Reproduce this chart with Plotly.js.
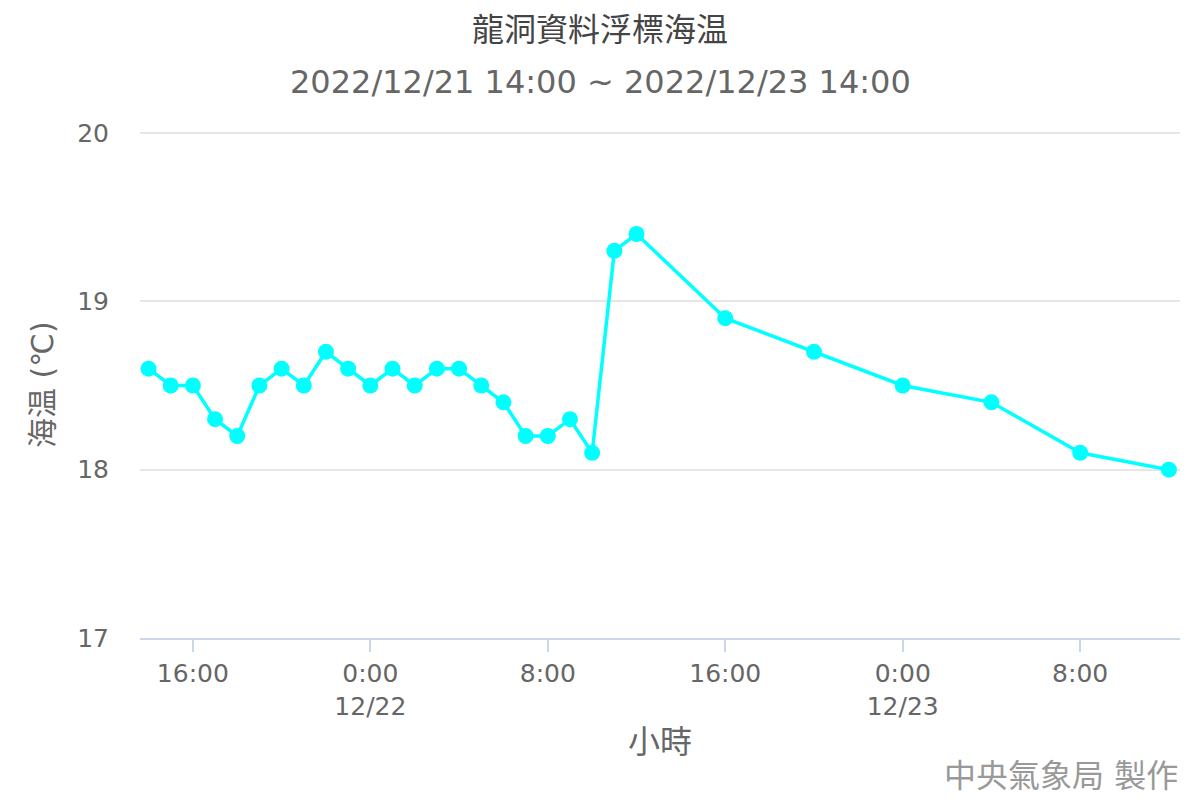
<!DOCTYPE html>
<html>
<head>
<meta charset="utf-8">
<script src="https://cdn.plot.ly/plotly-3.0.1.min.js"></script>
<style>
  html, body { margin: 0; padding: 0; background: #fff; }
  #plot { width: 1200px; height: 800px; }
</style>
</head>
<body>
<div id="plot"></div>
<script>
// hourly readings, then 4-hourly after noon on 12/22
const times = [
  '2022-12-21 14:00', '2022-12-21 15:00', '2022-12-21 16:00', '2022-12-21 17:00',
  '2022-12-21 18:00', '2022-12-21 19:00', '2022-12-21 20:00', '2022-12-21 21:00',
  '2022-12-21 22:00', '2022-12-21 23:00', '2022-12-22 00:00', '2022-12-22 01:00',
  '2022-12-22 02:00', '2022-12-22 03:00', '2022-12-22 04:00', '2022-12-22 05:00',
  '2022-12-22 06:00', '2022-12-22 07:00', '2022-12-22 08:00', '2022-12-22 09:00',
  '2022-12-22 10:00', '2022-12-22 11:00', '2022-12-22 12:00', '2022-12-22 16:00',
  '2022-12-22 20:00', '2022-12-23 00:00', '2022-12-23 04:00', '2022-12-23 08:00',
  '2022-12-23 12:00'
]
const seaTemp = [
  18.6, 18.5, 18.5, 18.3, 18.2, 18.5, 18.6, 18.5, 18.7, 18.6,
  18.5, 18.6, 18.5, 18.6, 18.6, 18.5, 18.4, 18.2, 18.2, 18.3,
  18.1, 19.3, 19.4, 18.9, 18.7, 18.5, 18.4, 18.1, 18.0
]
const tickTimes = [
  '2022-12-21 16:00', '2022-12-22 00:00', '2022-12-22 08:00',
  '2022-12-22 16:00', '2022-12-23 00:00', '2022-12-23 08:00'
]
const tickLabels = ['16:00', '0:00<br>12/22', '8:00', '16:00', '0:00<br>12/23', '8:00']
const yTicks = [17, 18, 19, 20]

const FONT = 'DejaVu Sans, Noto Sans CJK TC, sans-serif'

const data = [{
  x: times, y: seaTemp,
  type: 'scatter', mode: 'lines+markers',
  line: { color: '#00FFFF', width: 3.5 },
  marker: { color: '#00FFFF', size: 16 },
  hoverinfo: 'x+y'
}]

const layout = {
  width: 1200, height: 800,
  margin: { l: 140, r: 20, t: 132, b: 162 },
  paper_bgcolor: '#fff', plot_bgcolor: '#fff',
  font: { family: FONT, color: '#666' },
  showlegend: false,
  title: {
    text: '龍洞資料浮標海温',
    font: { family: FONT, size: 32, color: '#444' },
    x: 0.5, xanchor: 'center',
    y: 1 - 30 / 800, yanchor: 'middle', yref: 'container'
  },
  xaxis: {
    type: 'date',
    range: ['2022-12-21 13:37', '2022-12-23 12:30'],
    tickvals: tickTimes, ticktext: tickLabels,
    tickfont: { size: 25, color: '#666' },
    showgrid: false, zeroline: false,
    showline: true, linecolor: '#ccd6eb', linewidth: 2,
    ticks: 'outside', ticklen: 12, tickcolor: '#ccd6eb', tickwidth: 2
  },
  yaxis: {
    range: [17, 20.006],
    tickvals: yTicks,
    tickfont: { size: 25, color: '#666' },
    showgrid: true, gridcolor: '#e6e6e6', gridwidth: 2,
    zeroline: false, showline: false,
    ticks: '', ticklabelstandoff: 30
  },
  annotations: [
    {
      text: '2022/12/21 14:00 ~ 2022/12/23 14:00',
      xref: 'paper', yref: 'paper', x: (600 - 140) / 1040, y: (638 - 82) / 506,
      xanchor: 'center', yanchor: 'middle', showarrow: false,
      font: { family: FONT, size: 32, color: '#666' }
    },
    {
      text: '海温 (℃)',
      xref: 'paper', yref: 'paper', x: (42 - 140) / 1040, y: 0.5,
      xanchor: 'center', yanchor: 'middle', showarrow: false, textangle: -90,
      font: { family: FONT, size: 30, color: '#666' }
    },
    {
      text: '小時',
      xref: 'paper', yref: 'paper', x: (660 - 140) / 1040, y: (638 - 742) / 506,
      xanchor: 'center', yanchor: 'middle', showarrow: false,
      font: { family: FONT, size: 32, color: '#666' }
    },
    {
      text: '中央氣象局 製作',
      xref: 'paper', yref: 'paper', x: 1, y: (638 - 776) / 506,
      xanchor: 'right', yanchor: 'middle', showarrow: false,
      font: { family: FONT, size: 32, color: '#999' }
    }
  ]
}

Plotly.newPlot('plot', data, layout, { displayModeBar: false, staticPlot: true })
</script>
</body>
</html>
